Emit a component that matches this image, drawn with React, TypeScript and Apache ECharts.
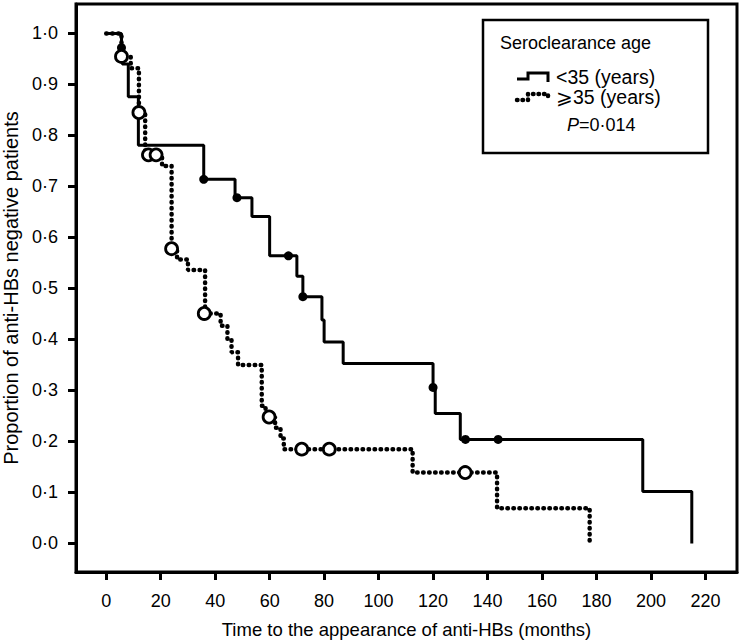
import React, { useEffect, useRef } from "react";
import * as echarts from "echarts";

// <35 years group (solid): step points (time, proportion)
const solidTimes = [0, 5.6, 5.9, 8.1, 11.8, 35.8, 47.3, 53.5, 60, 70, 72.2, 79.2, 80, 87, 120, 120.8, 130, 197, 215];
const solidSurv = [1, 0.969, 0.94, 0.876, 0.781, 0.714, 0.678, 0.641, 0.564, 0.524, 0.484, 0.438, 0.395, 0.353, 0.306, 0.255, 0.204, 0.102, 0];
const solidCensT = [5.6, 35.8, 48, 66.9, 72.2, 120, 131.9, 143.9];
const solidCensS = [0.972, 0.714, 0.678, 0.564, 0.484, 0.306, 0.204, 0.204];

// >=35 years group (dotted)
const dotTimes = [0, 5.6, 9, 12, 14.3, 20.5, 24, 26, 30, 36.3, 42, 44.5, 46, 48.4, 57.1, 58.5, 62, 64, 65.2, 112.5, 143.5, 177.5];
const dotSurv = [1, 0.955, 0.932, 0.845, 0.762, 0.74, 0.578, 0.557, 0.536, 0.451, 0.427, 0.4, 0.375, 0.35, 0.27, 0.248, 0.227, 0.206, 0.185, 0.139, 0.069, 0];
const dotCensT = [5.6, 12, 15.5, 18.3, 24, 36, 59.8, 71.8, 81.9, 131.8];
const dotCensS = [0.955, 0.845, 0.762, 0.762, 0.578, 0.451, 0.248, 0.185, 0.185, 0.139];

const xTicks = [0, 20, 40, 60, 80, 100, 120, 140, 160, 180, 200, 220];
const yTicks = [0, 0.1, 0.2, 0.3, 0.4, 0.5, 0.6, 0.7, 0.8, 0.9, 1.0];

const legendTitle = "Seroclearance age";
const legendLabels = ["<35 (years)", "\u2A7E35 (years)"];
const pValueText = "=0·014";

const FONT = "'Liberation Sans', Arial, Helvetica, sans-serif";

export default function App() {
  const ref = useRef<HTMLDivElement>(null);
  useEffect(() => {
    if (!ref.current) return;
    const chart = echarts.init(ref.current, null, { renderer: "svg" });
    const zip = (a: number[], b: number[]) => a.map((v, i) => [v, b[i]]);
    chart.setOption({
      animation: false,
      backgroundColor: "#fff",
      textStyle: { fontFamily: FONT, color: "#000" },
      grid: {
        left: 76,
        right: 5,
        top: 4,
        bottom: 70,
        containLabel: false,
        outerBoundsMode: "none",
        show: true,
        borderColor: "#000",
        borderWidth: 3,
      },
      xAxis: {
        type: "value",
        min: -11.1,
        max: 231.6,
        name: "Time to the appearance of anti-HBs (months)",
        nameLocation: "middle",
        nameGap: 48,
        nameTextStyle: { fontSize: 18.5, fontFamily: FONT, color: "#000" },
        axisLine: { onZero: false, lineStyle: { color: "#000", width: 3 } },
        axisTick: { show: true, length: 8, lineStyle: { width: 3, color: "#000" }, customValues: xTicks },
        axisLabel: { fontSize: 18, color: "#000", fontFamily: FONT, margin: 20, customValues: xTicks },
        splitLine: { show: false },
      },
      yAxis: {
        type: "value",
        min: -0.0559,
        max: 1.0578,
        name: "Proportion of anti-HBs negative patients",
        nameLocation: "middle",
        nameGap: 52,
        nameTextStyle: { fontSize: 20, fontFamily: FONT, color: "#000" },
        axisLine: { onZero: false, lineStyle: { color: "#000", width: 3 } },
        axisTick: { show: true, length: 8, lineStyle: { width: 3, color: "#000" }, customValues: yTicks },
        axisLabel: {
          fontSize: 18,
          color: "#000",
          fontFamily: FONT,
          margin: 18,
          customValues: yTicks,
          formatter: (v: number) => v.toFixed(1).replace(".", "·"),
        },
        splitLine: { show: false },
      },
      series: [
        {
          type: "line",
          name: legendLabels[0],
          step: "end",
          data: zip(solidTimes, solidSurv),
          showSymbol: false,
          lineStyle: { color: "#000", width: 3 },
          z: 2,
        },
        {
          type: "line",
          name: legendLabels[1],
          step: "end",
          data: zip(dotTimes, dotSurv),
          showSymbol: false,
          lineStyle: { color: "#000", width: 4.5, type: [0.5, 5.5], cap: "round" },
          z: 2,
        },
        {
          type: "scatter",
          data: zip(solidCensT, solidCensS),
          symbol: "circle",
          symbolSize: 9,
          itemStyle: { color: "#000", opacity: 1 },
          z: 3,
        },
        {
          type: "scatter",
          data: zip(dotCensT, dotCensS),
          symbol: "circle",
          symbolSize: 12,
          itemStyle: { color: "#fff", borderColor: "#000", borderWidth: 2.8, opacity: 1 },
          z: 4,
        },
      ],
      graphic: [
        {
          type: "rect",
          shape: { x: 483, y: 20, width: 225, height: 133 },
          style: { fill: "#fff", stroke: "#000", lineWidth: 2.5 },
          z: 10,
        },
        {
          type: "text",
          x: 500,
          y: 43,
          style: { text: legendTitle, font: `18px ${FONT}`, fill: "#000", verticalAlign: "middle" },
          z: 11,
        },
        {
          type: "polyline",
          shape: { points: [[517, 79], [528, 79], [528, 73], [548, 73], [548, 82]] },
          style: { stroke: "#000", lineWidth: 3, fill: null },
          z: 11,
        },
        {
          type: "polyline",
          shape: { points: [[517, 100], [528, 100], [528, 94], [548, 94], [548, 101]] },
          style: { stroke: "#000", lineWidth: 4.5, fill: null, lineDash: [0.5, 5], lineCap: "round" },
          z: 11,
        },
        {
          type: "text",
          x: 556,
          y: 77,
          style: { text: legendLabels[0], font: `19.5px ${FONT}`, fill: "#000", verticalAlign: "middle" },
          z: 11,
        },
        {
          type: "text",
          x: 556,
          y: 97,
          style: { text: legendLabels[1], font: `19.5px ${FONT}`, fill: "#000", verticalAlign: "middle" },
          z: 11,
        },
        {
          type: "text",
          x: 567,
          y: 125,
          style: {
            text: "{i|P}" + pValueText,
            font: `18px ${FONT}`,
            fill: "#000",
            verticalAlign: "middle",
            rich: { i: { fontStyle: "italic", fontSize: 18, fontFamily: FONT } },
          },
          z: 11,
        },
      ],
    });
    return () => chart.dispose();
  }, []);
  return (
    <div
      ref={ref}
      style={{ position: "fixed", left: 0, top: 0, width: 742, height: 642, background: "#fff" }}
    />
  );
}
